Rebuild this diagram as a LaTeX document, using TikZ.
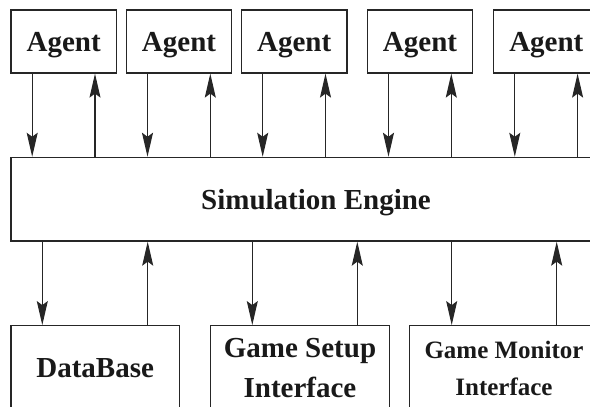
\documentclass[tikz,border=0pt]{standalone}
\usepackage{fontspec}
\setmainfont{Liberation Serif}
\usepackage{tikz}
\usetikzlibrary{arrows.meta, calc}
\tikzset{
  scatola/.style={draw=black!85, line width=1.2pt, inner sep=0pt, align=center, text=black!90, font=\bfseries\fontsize{29}{39.7}\selectfont},
  agente/.style={scatola, minimum width=105.5pt, minimum height=63pt, text depth=0pt},
  interfaccia/.style={scatola, minimum height=85pt},
  punta/.tip={Stealth[length=24pt, width=11pt, inset=4pt]},
  freccia/.style={draw=black!85, line width=1.2pt, -punta}
}

\begin{document}
\begin{tikzpicture}[x=1pt, y=-1pt]
    % Cornice
    \useasboundingbox (0,0) rectangle (590,407);
    \clip (0,0) rectangle (590,407);
    % Motore
    \node[scatola, minimum width=610pt, minimum height=83.7pt, text depth=0pt] (motore) at (316,199.2) {Simulation Engine};
    % Agenti
    \foreach \i/\x in {1/63.7, 2/179, 3/294.2, 4/420, 5/546.3} {
        \node[agente] (a\i) at (\x,41.5) {Agent};
        \draw[freccia] ([xshift=-31.5]a\i.south) -- ([xshift=-31.5]a\i.south |- motore.north);
        \draw[freccia] ([xshift=31.3]a\i.south |- motore.north) -- ([xshift=31.3]a\i.south);
    }
    % Interfacce
    \node[interfaccia, minimum width=168.3pt] (db) at (95.15,368.2) {DataBase};
    \node[interfaccia, minimum width=178.6pt] (setup) at (300,368.2) {Game Setup\\Interface};
    \node[interfaccia, minimum width=189.4pt, font=\bfseries\fontsize{25}{36.7}\selectfont] (monitor) at (504,368.2) {Game Monitor\\Interface};
    \foreach \n/\giu/\su in {db/-52.85/52.55, setup/-47.7/57.3, monitor/-52.3/52.7} {
        \draw[freccia] ([xshift=\giu]\n.north |- motore.south) -- ([xshift=\giu]\n.north);
        \draw[freccia] ([xshift=\su]\n.north) -- ([xshift=\su]\n.north |- motore.south);
    }
\end{tikzpicture}
\end{document}
